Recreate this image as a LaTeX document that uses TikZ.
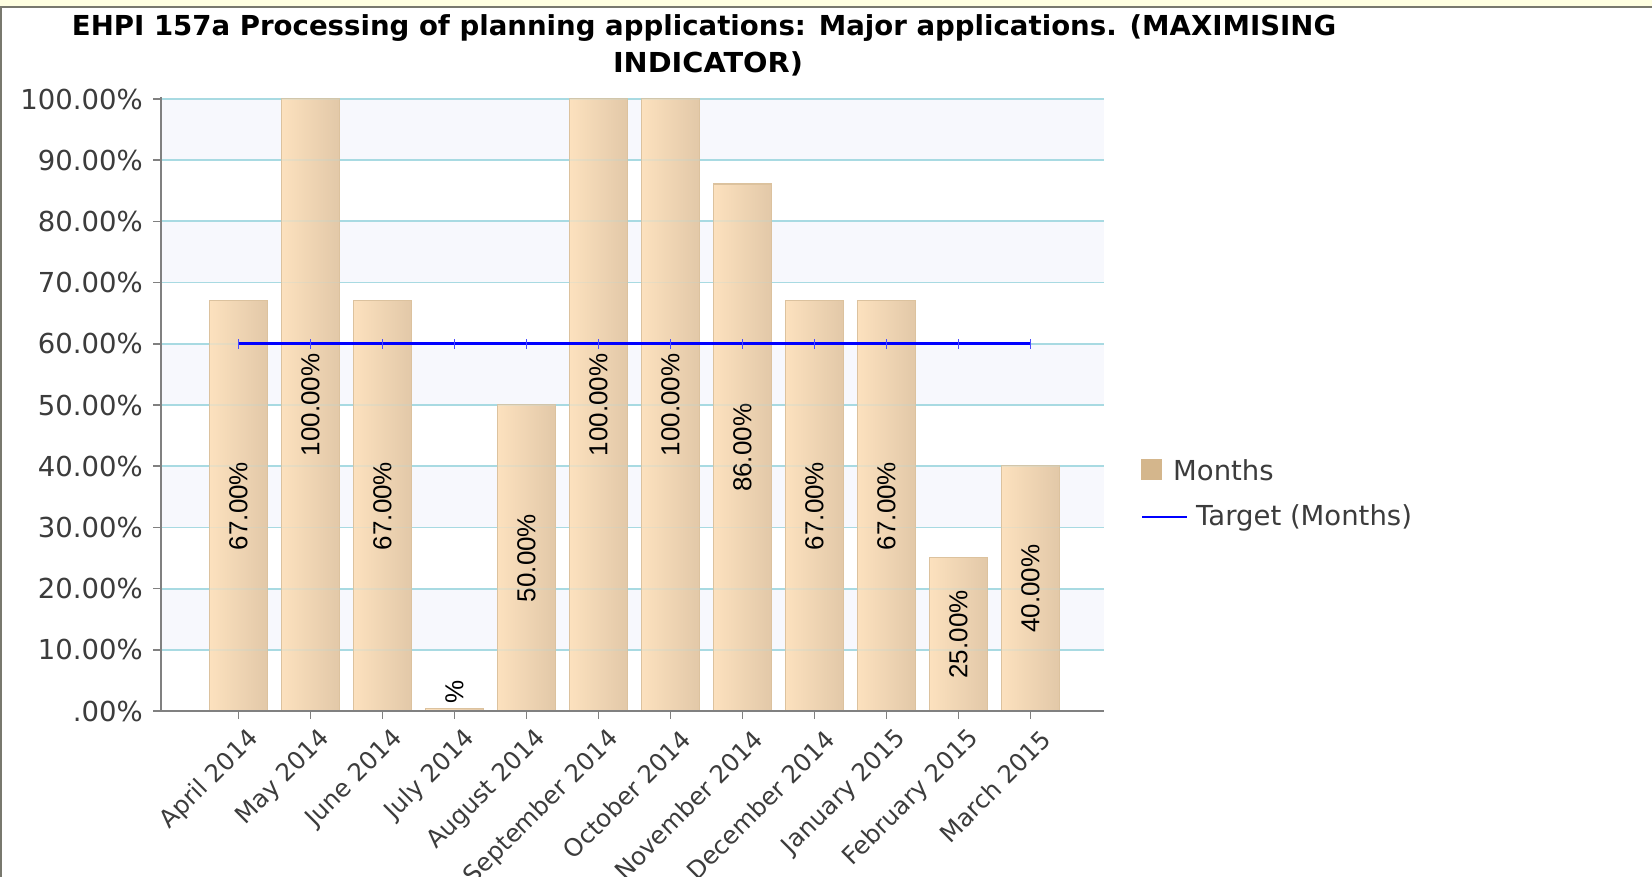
\documentclass[tikz,border=0pt]{standalone}
\usepackage{fontspec}
\setmainfont{DejaVu Sans}
\newfontfamily\libsans{Liberation Sans}
\usepackage{graphicx}
\definecolor{topyel}{RGB}{255,255,225}
\definecolor{framec}{RGB}{120,120,110}
\definecolor{bandc}{RGB}{247,248,253}
\definecolor{gridc}{RGB}{168,218,226}
\definecolor{axisc}{RGB}{128,128,128}
\definecolor{barL}{RGB}{252,225,190}
\definecolor{barR}{RGB}{226,200,168}
\definecolor{barE}{RGB}{220,194,158}
\definecolor{txtc}{RGB}{60,60,60}
\definecolor{legtan}{RGB}{212,182,140}
\tikzset{
  barbox/.style={draw=barE, line width=1.2, left color=barL, right color=barR, minimum width=58, inner sep=0, anchor=south},
  gridln/.style={gridc, line width=1.8},
  axisln/.style={axisc, line width=2},
  ylab/.style={font=\fontsize{27.5}{33}\selectfont, text=txtc, anchor=east, inner sep=0},
  xlab/.style={font=\fontsize{24.5}{30}\selectfont, text=txtc, anchor=east, inner sep=0, rotate=45},
  vlab/.style={font=\libsans\fontsize{26}{30}\selectfont, text=black, rotate=90, inner sep=0},
  legtext/.style={font=\fontsize{27.5}{33}\selectfont, text=txtc, anchor=west, inner sep=0},
  titletext/.style={font=\fontsize{27.5}{33}\selectfont\bfseries, text=black, inner sep=0},
  targetln/.style={blue, line width=3},
}
\begin{document}
\begin{tikzpicture}[x=1pt,y=-1pt]
\useasboundingbox (0,0) rectangle (1652,877);
\fill[white] (0,0) rectangle (1652,877);
\fill[topyel] (0,0) rectangle (1652,6);
\draw[framec, line width=2.2] (0,7) -- (1652,7);
\draw[framec, line width=2.2] (1,7) -- (1,877);
% title
\node[titletext] (title1) at (704,28) {\resizebox{1264pt}{\height}{EHPI 157a Processing of planning applications: Major applications. (MAXIMISING}};
\node[titletext] (title2) at (708,64) {\resizebox{190pt}{\height}{INDICATOR)}};
% bands
\foreach \k in {0,2,4,6,8} {
  \fill[bandc] (161,{99+\k*61.2}) rectangle (1104,{99+(\k+1)*61.2});
}
% grid lines, ticks and y labels
\foreach \v in {10,20,...,100} {
  \draw[gridln] (161,{711-6.12*\v}) -- (1104,{711-6.12*\v});
  \draw[axisln, line width=1.5] (153,{711-6.12*\v}) -- (161,{711-6.12*\v});
  \node[ylab] (yl\v) at (143,{711-6.12*\v}) {\v.00\%};
}
\draw[axisln, line width=1.5] (153,711) -- (161,711);
\node[ylab] (yl0) at (143,711) {.00\%};
% bars
\foreach \v/\lab/\mon [count=\i from 0] in {67/67.00/April 2014,100/100.00/May 2014,67/67.00/June 2014,0.35//July 2014,50/50.00/August 2014,100/100.00/September 2014,100/100.00/October 2014,86/86.00/November 2014,67/67.00/December 2014,67/67.00/January 2015,25/25.00/February 2015,40/40.00/March 2015} {
  \pgfmathsetmacro{\cx}{238.5+72*\i}
  \pgfmathsetmacro{\hh}{6.12*\v}
  \pgfmathsetmacro{\my}{min(711-\hh/2,692)}
  \node[barbox, minimum height=\hh] (bar\i) at (\cx,711) {};
  \node[vlab] (val\i) at (\cx,\my) {\lab\%};
  \draw[axisln, line width=1.5] (\cx,711) -- (\cx,719);
  \node[xlab] (xl\i) at (\cx+16,735) {\mon};
  \coordinate (t\i) at (\cx,{711-6.12*60});
}
% faint grid through bars
\foreach \v in {10,20,...,100} {
  \draw[gridc, line width=1.8, opacity=0.2] (161,{711-6.12*\v}) -- (1104,{711-6.12*\v});
}
% axes
\draw[axisln] (161,97) -- (161,712);
\draw[axisln] (160,711) -- (1104,711);
% target line
\draw[targetln] (t0) -- (t11);
\foreach \i in {0,...,11} {
  \draw[blue!70, line width=0.8] ([yshift=-5]t\i) -- ([yshift=5]t\i);
}
% legend
\node[fill=legtan, minimum size=21, inner sep=0] (legsq) at (1151.5,469) {};
\node[legtext] (legm) at (1173,470) {Months};
\coordinate (la) at (1142,517);
\coordinate (lb) at (1187,517);
\draw[blue, line width=2.5] (la) -- (lb);
\node[legtext] (legt) at (1196,518) {Target (Months)};
\end{tikzpicture}
\end{document}
